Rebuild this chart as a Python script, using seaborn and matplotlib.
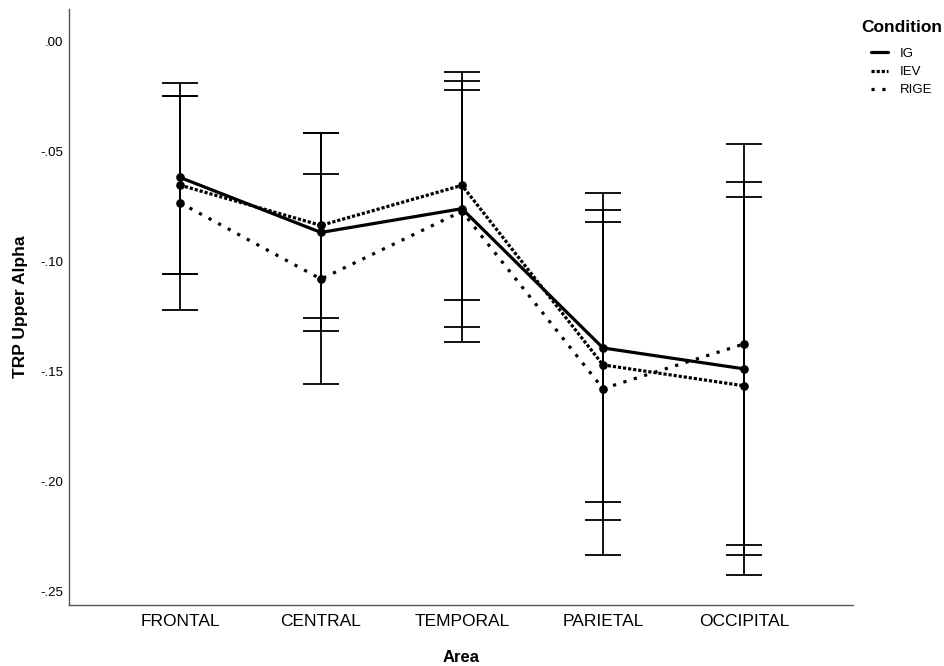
import matplotlib
matplotlib.use("Agg")
import matplotlib.pyplot as plt
import seaborn as sns
import pandas as pd
from matplotlib.lines import Line2D

areas = ["FRONTAL", "CENTRAL", "TEMPORAL", "PARIETAL", "OCCIPITAL"]
conditions = ["IG", "IEV", "RIGE"]

ig_mean = [-0.0620, -0.0870, -0.0762, -0.1395, -0.1490]
ig_lo = [-0.1060, -0.1320, -0.1301, -0.2095, -0.2338]
ig_hi = [-0.0189, -0.0419, -0.0224, -0.0693, -0.0643]

iev_mean = [-0.0655, -0.0838, -0.0656, -0.1472, -0.1567]
iev_lo = [-0.1060, -0.1258, -0.1175, -0.2177, -0.2426]
iev_hi = [-0.0250, -0.0419, -0.0139, -0.0767, -0.0708]

rige_mean = [-0.0735, -0.1082, -0.0774, -0.1580, -0.1377]
rige_lo = [-0.1222, -0.1561, -0.1366, -0.2337, -0.2290]
rige_hi = [-0.0250, -0.0603, -0.0180, -0.0824, -0.0466]

yticks = [0.0, -0.05, -0.10, -0.15, -0.20, -0.25]

means = {"IG": ig_mean, "IEV": iev_mean, "RIGE": rige_mean}
los = {"IG": ig_lo, "IEV": iev_lo, "RIGE": rige_lo}
his = {"IG": ig_hi, "IEV": iev_hi, "RIGE": rige_hi}

df = pd.DataFrame(
    [(a, c, means[c][i]) for c in conditions for i, a in enumerate(areas)],
    columns=["Area", "Condition", "TRP"],
)

sns.set_theme(style="white")
plt.rcParams["font.family"] = ["Liberation Sans", "DejaVu Sans"]
plt.rcParams["text.color"] = "black"
plt.rcParams["axes.labelcolor"] = "black"
plt.rcParams["xtick.color"] = "black"
plt.rcParams["ytick.color"] = "black"

fig = plt.figure(figsize=(9.45, 6.66), dpi=100)
ax = fig.add_axes([0.073, 0.092, 0.8296, 0.8945])

styles = {"IG": "-", "IEV": (0, (1, 0.6)), "RIGE": (0, (1, 2.4))}

sns.pointplot(
    data=df, x="Area", y="TRP", hue="Condition",
    order=areas, hue_order=conditions,
    palette=["black"] * 3, markers="o",
    linestyles=[styles[c] for c in conditions],
    errorbar=None, dodge=False, ax=ax,
    markersize=4.5, linewidth=2.3, legend=False,
)

for c in conditions:
    m = means[c]
    lo = los[c]
    hi = his[c]
    yerr = [[mi - l for mi, l in zip(m, lo)], [h - mi for mi, h in zip(m, hi)]]
    ax.errorbar(list(range(len(areas))), m, yerr=yerr, fmt="none",
                ecolor="black", elinewidth=1.3, capsize=13, capthick=1.3,
                zorder=1)

ax.set_xlim(-0.787, 4.773)
ax.set_ylim(-0.2562, 0.01455)
ax.set_yticks(yticks)
ax.set_yticklabels([f"{v:.2f}".replace("0.", ".") for v in yticks], fontsize=9.5)
ax.tick_params(axis="x", labelsize=12.5, length=0, pad=7)
ax.tick_params(axis="y", length=0, pad=4)
for s in ["top", "right"]:
    ax.spines[s].set_visible(False)
for s in ["left", "bottom"]:
    ax.spines[s].set_color("#555555")
    ax.spines[s].set_linewidth(1.0)

ax.set_xlabel("Area", fontsize=12, fontweight="bold", labelpad=15)
ax.set_ylabel("TRP Upper Alpha", fontsize=12.5, fontweight="bold", labelpad=9)

fig.text(861 / 945, 1 - 27 / 666, "Condition", ha="left", va="center",
         fontsize=12.5, fontweight="bold")
handles = [Line2D([0], [0], color="black", lw=2.3, linestyle=styles[c]) for c in conditions]
leg = fig.legend(handles, conditions, loc="upper left",
                 bbox_to_anchor=(0.9086, 0.946), frameon=False, fontsize=9.5,
                 handlelength=1.3, handletextpad=0.9, labelspacing=0.45)

fig.savefig("out.png", dpi=100)
